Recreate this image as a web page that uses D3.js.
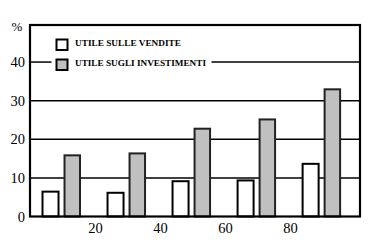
<!DOCTYPE html>
<html>
<head>
<meta charset="utf-8">
<script src="https://cdn.jsdelivr.net/npm/d3@7/dist/d3.min.js"></script>
<style>
html,body{margin:0;padding:0;background:#fff;}
svg{display:block;}
svg text{font-family:'Liberation Serif', serif !important;}
</style>
</head>
<body>
<svg id="chart" width="388" height="249"></svg>
<script>
const groups = [10, 30, 50, 70, 90];
const venditeValues = [6.7, 6.4, 9.4, 9.6, 13.9];
const investimentiValues = [16.1, 16.6, 23.0, 25.4, 33.2];
const yTicks = [0, 10, 20, 30, 40];
const xTicks = [20, 40, 60, 80];
const legendLabels = ["UTILE SULLE VENDITE", "UTILE SUGLI INVESTIMENTI"];

const svg = d3.select("#chart");
const x = d3.scaleLinear().domain([0, 101.5]).range([30, 360]);
const y = d3.scaleLinear().domain([0, 49.6]).range([216.5, 25]);

// gridlines
const grid = svg.append("g");
yTicks.filter(t => t > 0 && t !== 40).forEach(t => {
  grid.append("line").attr("x1", x(0)).attr("x2", x(101.5))
    .attr("y1", y(t)).attr("y2", y(t)).attr("stroke", "#000").attr("stroke-width", 1.5);
});
grid.append("line").attr("x1", x(0)).attr("x2", 51.5).attr("y1", y(40)).attr("y2", y(40))
  .attr("stroke", "#000").attr("stroke-width", 1.5);
grid.append("line").attr("x1", 211.5).attr("x2", x(101.5)).attr("y1", y(40)).attr("y2", y(40))
  .attr("stroke", "#000").attr("stroke-width", 1.5);

// bars
const wOff = [-6.46, -0.92], gOff = [0.31, 5.69];
const bars = svg.append("g");
bars.selectAll("rect.v").data(groups.map((g, i) => ({g, v: venditeValues[i]})))
  .join("rect").attr("class", "v")
  .attr("x", d => x(d.g + wOff[0]) + 1)
  .attr("width", d => x(d.g + wOff[1]) - x(d.g + wOff[0]) - 2)
  .attr("y", d => y(d.v) + 1)
  .attr("height", d => y(0) - y(d.v) - 1)
  .attr("fill", "#fff").attr("stroke", "#000").attr("stroke-width", 2);
bars.selectAll("rect.i").data(groups.map((g, i) => ({g, v: investimentiValues[i]})))
  .join("rect").attr("class", "i")
  .attr("x", d => x(d.g + gOff[0]) + 1)
  .attr("width", d => x(d.g + gOff[1]) - x(d.g + gOff[0]) - 2)
  .attr("y", d => y(d.v) + 1)
  .attr("height", d => y(0) - y(d.v) - 1)
  .attr("fill", "#c0c0c0").attr("stroke", "#222").attr("stroke-width", 2);

// frame
svg.append("rect").attr("x", x(0)).attr("y", y(49.6)).attr("width", x(101.5) - x(0))
  .attr("height", y(0) - y(49.6)).attr("fill", "none").attr("stroke", "#000").attr("stroke-width", 2.2);

// axes
const yAxis = d3.axisLeft(y).tickValues(yTicks).tickSize(0).tickPadding(5).tickFormat(d3.format("d"));
const yg = svg.append("g").attr("transform", `translate(${x(0)},0)`).call(yAxis);
yg.select(".domain").remove();
yg.selectAll("text").style("font-size", "14.5px").attr("fill", "#000");
const xAxis = d3.axisBottom(x).tickValues(xTicks).tickSize(0).tickPadding(6).tickFormat(d3.format("d"));
const xg = svg.append("g").attr("transform", `translate(0,${y(0)})`).call(xAxis);
xg.select(".domain").remove();
xg.selectAll("text").style("font-size", "14.5px").attr("fill", "#000");

svg.append("text").attr("x", 17).attr("y", 31).attr("text-anchor", "middle")
  .style("font-size", "13px").text("%");

// legend
const leg = svg.append("g");
const legFill = ["#fff", "#c0c0c0"];
const legY = [38.5, 58.5];
const legW = [106, 131];
legendLabels.forEach((lab, i) => {
  leg.append("rect").attr("x", 56.5).attr("y", legY[i] + 1).attr("width", 11).attr("height", 10.5)
    .attr("fill", legFill[i]).attr("stroke", "#000").attr("stroke-width", 2);
  leg.append("text").attr("x", 75).attr("y", legY[i] + 7.5)
    .style("font-size", "7.5px").style("font-weight", "bold")
    .attr("textLength", legW[i]).attr("lengthAdjust", "spacingAndGlyphs")
    .text(lab);
});
</script>
</body>
</html>
